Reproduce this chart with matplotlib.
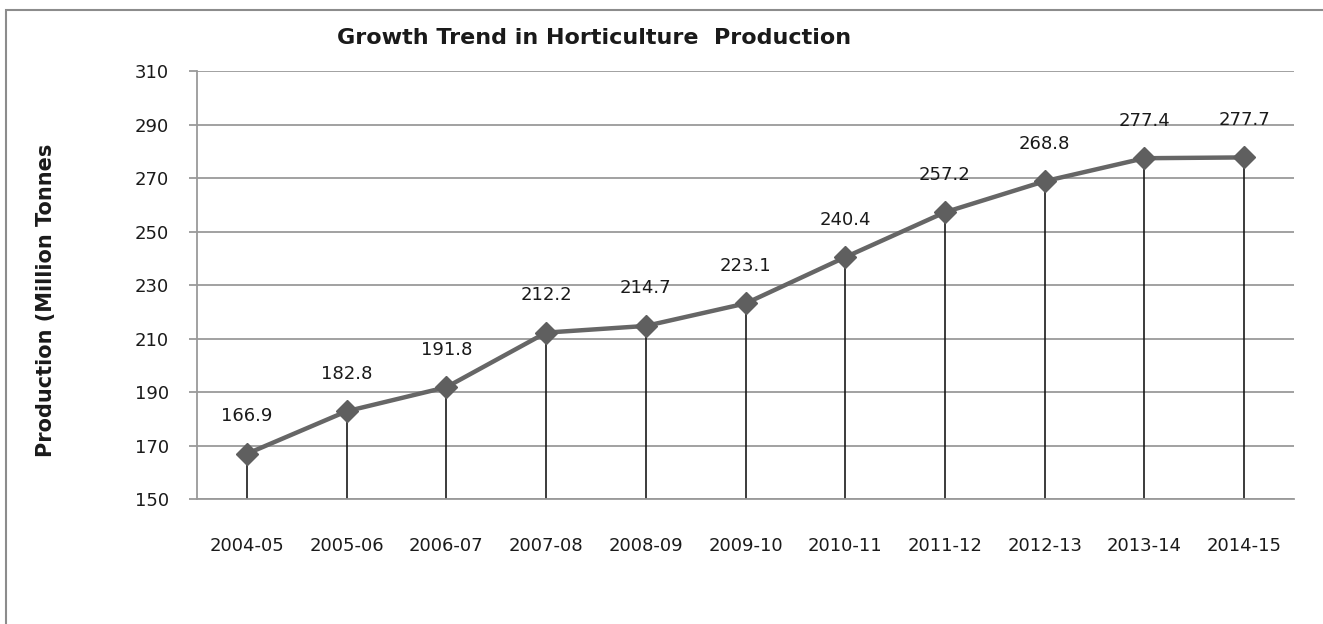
import matplotlib.pyplot as plt
from matplotlib.patches import Rectangle

years = ["2004-05", "2005-06", "2006-07", "2007-08", "2008-09", "2009-10",
         "2010-11", "2011-12", "2012-13", "2013-14", "2014-15"]
production = [166.9, 182.8, 191.8, 212.2, 214.7, 223.1,
              240.4, 257.2, 268.8, 277.4, 277.7]
y_ticks = [150, 170, 190, 210, 230, 250, 270, 290, 310]


def create_production_image():
    fig = plt.figure(figsize=(13.23, 6.24), dpi=100)
    ax = fig.add_axes([0.1489, 0.2003, 0.8292, 0.6859])

    # chart frame, runs off the right and bottom edges
    fig.patches.append(Rectangle((6 / 1323, -0.1), 1.2, 614 / 624 + 0.1,
                                 transform=fig.transFigure, fill=False,
                                 edgecolor="#8c8c8c", linewidth=1.5))

    x = list(range(len(years)))
    ax.vlines(x, y_ticks[0], production, colors="#1a1a1a", linewidth=1.2, zorder=2)
    ax.plot(x, production, color="#666666", linewidth=3.2, marker="D",
            markersize=11, markerfacecolor="#5f5f5f", markeredgecolor="#5f5f5f",
            zorder=3)

    for xi, val in zip(x, production):
        ax.annotate(f"{val:.1f}", (xi, val), xytext=(0, 27), textcoords="offset points",
                    ha="center", va="center", fontsize=13, color="#1a1a1a")

    ax.set_xlim(-0.5, len(years) - 0.5)
    ax.set_ylim(y_ticks[0], y_ticks[-1])
    ax.set_yticks(y_ticks)
    ax.set_xticks(x, years)
    ax.yaxis.grid(True, color="#9a9a9a", linewidth=1.3)
    ax.set_axisbelow(True)

    for side in ["top", "right"]:
        ax.spines[side].set_visible(False)
    ax.spines["left"].set_color("#9a9a9a")
    ax.spines["bottom"].set_color("#9a9a9a")
    ax.spines["left"].set_linewidth(1.3)
    ax.spines["bottom"].set_linewidth(1.3)
    ax.tick_params(axis="y", length=6, width=1.3, color="#9a9a9a",
                   labelsize=13, labelcolor="#1a1a1a", pad=14)
    ax.tick_params(axis="x", length=0, labelsize=13, labelcolor="#1a1a1a", pad=27)

    fig.text(594 / 1323, 1 - 38 / 624, "Growth Trend in Horticulture  Production",
             ha="center", va="center", fontsize=16, fontweight="bold", color="#1a1a1a")
    fig.text(46 / 1323, 1 - 300 / 624, "Production (Million Tonnes",
             ha="center", va="center", rotation=90, fontsize=15,
             fontweight="bold", color="#1a1a1a")

    plt.savefig("out.png", dpi=100, facecolor="white")


create_production_image()
